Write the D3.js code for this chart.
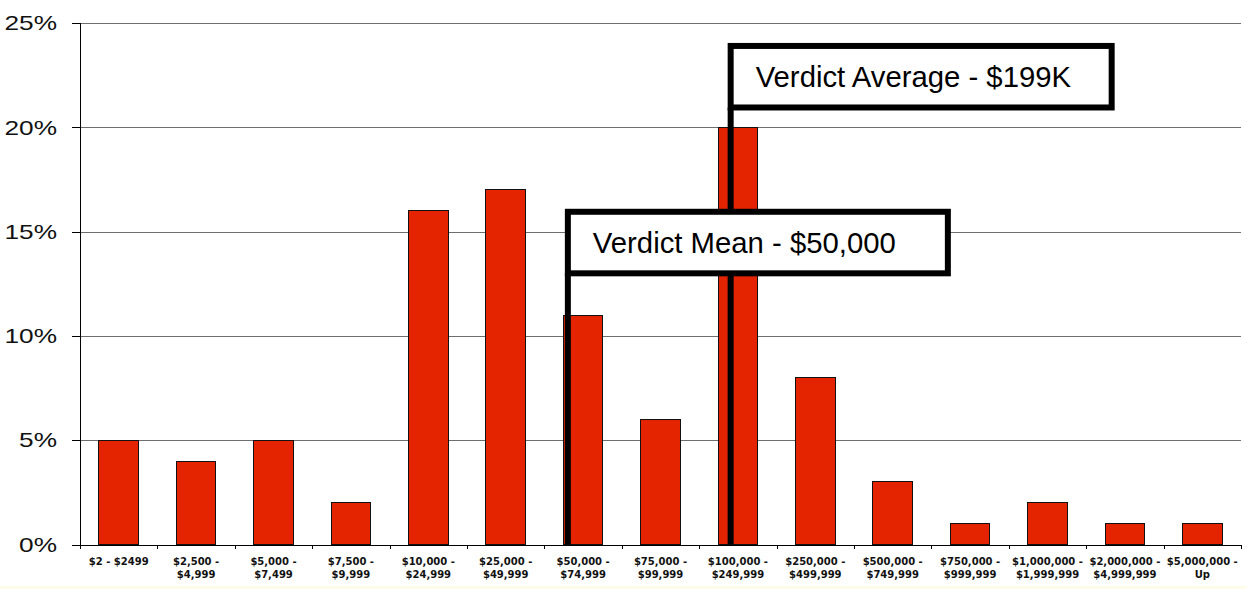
<!DOCTYPE html>
<html>
<head>
    <meta charset="utf-8">
    <title>Verdict distribution</title>
    <style type="text/css">
        body { margin: 0; background: #fff; }
        .grid line { stroke: #6e6e6e; stroke-width: 1; shape-rendering: crispEdges; }
        .axis path, .axis line { fill: none; stroke: #000; shape-rendering: crispEdges; }
        .y.axis text { font-family: "Liberation Sans", Arial, sans-serif; font-size: 21px; fill: #111; }
        .x.axis text { font-family: "DejaVu Sans", Verdana, sans-serif; font-size: 10px; font-weight: bold; fill: #111; }
        .bar { fill: #e42400; stroke: #111; stroke-width: 1; shape-rendering: crispEdges; }
        .note rect { fill: #fff; stroke: #000; stroke-width: 6; }
        .note line { stroke: #000; stroke-width: 6; }
        .note text { font-family: "Liberation Sans", Arial, sans-serif; font-size: 29.3px; fill: #000; }
    </style>
</head>
<body>
<svg width="1247" height="589"></svg>

<script src="https://cdnjs.cloudflare.com/ajax/libs/d3/7.8.5/d3.min.js"></script>
<script type="text/javascript">
    /*=========DATA=========*/
    var categories = [
        "$2 - $2499", "$2,500 -\n$4,999", "$5,000 -\n$7,499", "$7,500 -\n$9,999",
        "$10,000 -\n$24,999", "$25,000 -\n$49,999", "$50,000 -\n$74,999", "$75,000 -\n$99,999",
        "$100,000 -\n$249,999", "$250,000 -\n$499,999", "$500,000 -\n$749,999", "$750,000 -\n$999,999",
        "$1,000,000 -\n$1,999,999", "$2,000,000 -\n$4,999,999", "$5,000,000 -\nUp"
    ];
    var shares = [5, 4, 5, 2, 16, 17, 11, 6, 20, 8, 3, 1, 2, 1, 1];
    var yTicks = [0, 5, 10, 15, 20, 25];

    // annotation boxes: anchor category, box top / bottom in % units
    // (average drawn first so the mean box sits on top of its line)
    var noteLabels = ["Verdict Average - $199K", "Verdict Mean - $50,000"];
    var noteCats = ["$100,000 -\n$249,999", "$50,000 -\n$74,999"];
    var noteTop = [23.9, 15.95];
    var noteBottom = [20.95, 13.0];

    /*=====SIZE======*/
    var svgWidth = 1247, svgHeight = 589;
    var margin = { top: 23, right: 6, bottom: 44, left: 80 };
    var width = svgWidth - margin.left - margin.right;
    var height = svgHeight - margin.top - margin.bottom - 0.5;

    var svg = d3.select('svg');

    // thin pale strip at the very bottom
    svg.append('rect').attr('x', 0).attr('y', svgHeight - 3)
        .attr('width', svgWidth).attr('height', 3).attr('fill', '#fffbe9');

    var x = d3.scaleBand().domain(categories).range([0, width])
        .paddingInner(0.49).paddingOuter(0.245);
    var y = d3.scaleLinear().domain([0, 25]).range([height, 0]);

    var g = svg.append('g').attr('transform', 'translate(' + margin.left + ',' + margin.top + ')');

    // 网格线
    g.append('g').attr('class', 'grid')
        .selectAll('line').data(yTicks.slice(1)).enter().append('line')
        .attr('x1', 0).attr('x2', width)
        .attr('y1', d => Math.round(y(d)) + 0.5).attr('y2', d => Math.round(y(d)) + 0.5);

    // 柱子
    g.append('g').selectAll('rect').data(shares).enter().append('rect')
        .attr('class', 'bar')
        .attr('x', (d, i) => x(categories[i]))
        .attr('width', x.bandwidth())
        .attr('y', d => y(d))
        .attr('height', d => height - y(d));

    // y axis
    var yAxis = d3.axisLeft(y).tickValues(yTicks).tickSize(8).tickPadding(15)
        .tickFormat(d => d + '%');
    var yg = g.append('g').attr('class', 'y axis').call(yAxis);
    yg.select('.domain').attr('d', 'M0.5,' + y(25) + 'V' + height);
    var sx = 1.25;
    yg.selectAll('.tick text')
        .attr('x', -23 / sx)
        .attr('transform', 'scale(' + sx + ',1)');

    // x axis: labels at band centres, ticks at band boundaries
    var xAxis = d3.axisBottom(x).tickSize(0).tickPadding(0);
    var xg = g.append('g').attr('class', 'x axis')
        .attr('transform', 'translate(0,' + height + ')').call(xAxis);
    xg.select('.domain').attr('d', 'M0,0.5H' + width);
    xg.selectAll('.tick text').each(function (d) {
        var t = d3.select(this).text(null).attr('y', 0).attr('dy', null);
        d.split('\n').forEach(function (s, k) {
            t.append('tspan').attr('x', 0).attr('y', 20 + k * 13).text(s);
        });
    });
    var bounds = d3.range(categories.length + 1).map(i => i * x.step());
    xg.selectAll('.bound').data(bounds).enter().append('line').attr('class', 'bound')
        .attr('x1', d => Math.round(d) + 0.5).attr('x2', d => Math.round(d) + 0.5)
        .attr('y1', 0).attr('y2', 4);

    // 标注
    var noteX = [x(noteCats[0]) + 12.5, x(noteCats[1]) + 4.5];
    var noteW = [381, 380];
    noteLabels.forEach(function (lab, i) {
        var n = g.append('g').attr('class', 'note');
        n.append('line')
            .attr('x1', noteX[i]).attr('x2', noteX[i])
            .attr('y1', y(noteBottom[i])).attr('y2', height);
        n.append('rect')
            .attr('x', noteX[i]).attr('y', y(noteTop[i]))
            .attr('width', noteW[i]).attr('height', y(noteBottom[i]) - y(noteTop[i]));
        n.append('text')
            .attr('x', noteX[i] + 25)
            .attr('y', (y(noteTop[i]) + y(noteBottom[i])) / 2 + 10.5)
            .text(lab);
    });
</script>
</body>
</html>
